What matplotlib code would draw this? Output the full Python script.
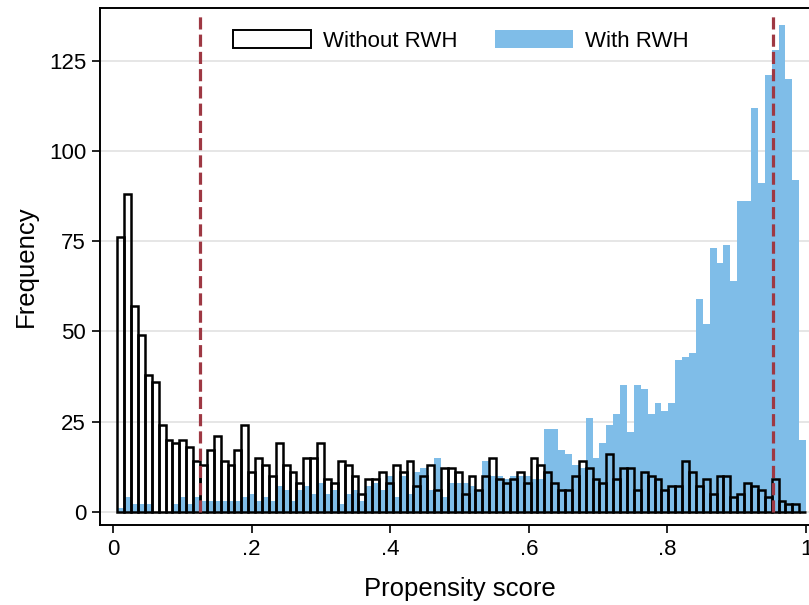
import numpy as np
import matplotlib
matplotlib.use("Agg")
import matplotlib.pyplot as plt
from matplotlib.patches import Patch

plt.rcParams['font.family'] = ['Liberation Sans', 'DejaVu Sans']

# Histogram bins (shared by both groups)
BIN_START = 0.0062
BIN_WIDTH = 0.00994

# Frequencies per bin, households without rainwater harvesting
without_rwh = [76, 88, 57, 49, 38, 36, 24, 20, 19, 20,
               18, 14, 13, 17, 21, 14, 13, 17, 24, 11,
               15, 13, 10, 19, 13, 11, 8, 15, 15, 19,
               9, 8, 14, 13, 10, 5, 9, 9, 11, 8,
               13, 11, 14, 7, 10, 13, 6, 12, 12, 11,
               5, 10, 6, 10, 15, 9, 8, 9, 11, 8,
               15, 13, 11, 8, 6, 6, 10, 14, 12, 9,
               8, 16, 9, 12, 12, 6, 11, 10, 9, 6,
               7, 7, 14, 11, 7, 9, 5, 10, 10, 4,
               5, 8, 7, 6, 4, 9, 3, 2, 2, 0]

# Frequencies per bin, households with rainwater harvesting
with_rwh = [1, 4, 2, 2, 2, 0, 0, 0, 2, 4,
            2, 4, 3, 3, 3, 3, 3, 3, 4, 5,
            3, 4, 3, 7, 6, 3, 6, 7, 5, 8,
            5, 6, 2, 5, 6, 3, 7, 8, 6, 10,
            4, 10, 5, 11, 12, 6, 15, 4, 8, 8,
            8, 7, 6, 14, 10, 10, 9, 10, 10, 10,
            9, 9, 23, 23, 17, 16, 13, 12, 26, 15,
            19, 24, 27, 35, 22, 35, 34, 27, 30, 28,
            30, 42, 43, 44, 59, 52, 73, 69, 74, 64,
            86, 86, 112, 91, 121, 128, 135, 120, 92, 20]

# Common-support cut-offs
cutoffs = [0.1255, 0.953]

x_ticks = [0, 0.2, 0.4, 0.6, 0.8, 1.0]
x_tick_labels = ["0", ".2", ".4", ".6", ".8", "1"]
y_ticks = [0, 25, 50, 75, 100, 125]
legend_labels = ["Without RWH", "With RWH"]

BLUE = "#7fbde8"
LINE_RED = "#9e3843"

W, H = 809, 605
fig = plt.figure(figsize=(W / 100, H / 100), dpi=100)
fig.patch.set_facecolor("white")

# Axes box in pixels: left 100, bottom spine 525, top spine 8; extends past right edge
px_per_unit_x = 693.0
x0_px = 113.0
left_px, right_px = 100.0, 113.0 + px_per_unit_x + 13.0
top_px, bottom_px = 8.0, 525.0
ax = fig.add_axes([left_px / W, 1 - bottom_px / H,
                   (right_px - left_px) / W, (bottom_px - top_px) / H])

xmin = (left_px - x0_px) / px_per_unit_x
xmax = (right_px - x0_px) / px_per_unit_x
ax.set_xlim(xmin, xmax)
px_per_unit_y = 90.2 / 25
y0_px = 511.7
ax.set_ylim((y0_px - bottom_px) / px_per_unit_y, (y0_px - top_px) / px_per_unit_y)

# Grid
for yt in y_ticks:
    ax.axhline(yt, color="#e6e6e6", lw=1.4, zorder=0)

n = len(with_rwh)
edges = BIN_START + BIN_WIDTH * np.arange(n)

ax.bar(edges, with_rwh, width=BIN_WIDTH, align="edge", color=BLUE,
       edgecolor="none", linewidth=0, zorder=2)
ax.bar(edges[:len(without_rwh)], without_rwh, width=BIN_WIDTH, align="edge",
       facecolor="none", edgecolor="black", linewidth=1.8, zorder=3)

for c in cutoffs:
    ax.plot([c, c], [0, 137.5], color=LINE_RED, lw=2.3, dashes=(3.8, 1.6),
            zorder=4, solid_capstyle="butt", dash_capstyle="butt")

ax.set_xticks(x_ticks)
ax.set_xticklabels(x_tick_labels)
ax.set_yticks(y_ticks)
ax.tick_params(axis="both", labelsize=16, length=6, width=1.2, pad=4,
               direction="out", color="black")
for s in ax.spines.values():
    s.set_linewidth(1.4)
    s.set_color("black")

ax.set_xlabel("Propensity score", fontsize=18.5, labelpad=12)
ax.set_ylabel("Frequency", fontsize=18.5, labelpad=8)

handles = [Patch(facecolor="white", edgecolor="black", linewidth=1.4),
           Patch(facecolor=BLUE, edgecolor="none")]
fig.legend(handles, legend_labels, loc="center", ncol=2, frameon=False,
           bbox_to_anchor=(461 / W, 1 - 41 / H), fontsize=16,
           handlelength=3.5, handleheight=0.85, handletextpad=0.55,
           columnspacing=1.7, borderaxespad=0)

fig.savefig("out.png", dpi=100)
